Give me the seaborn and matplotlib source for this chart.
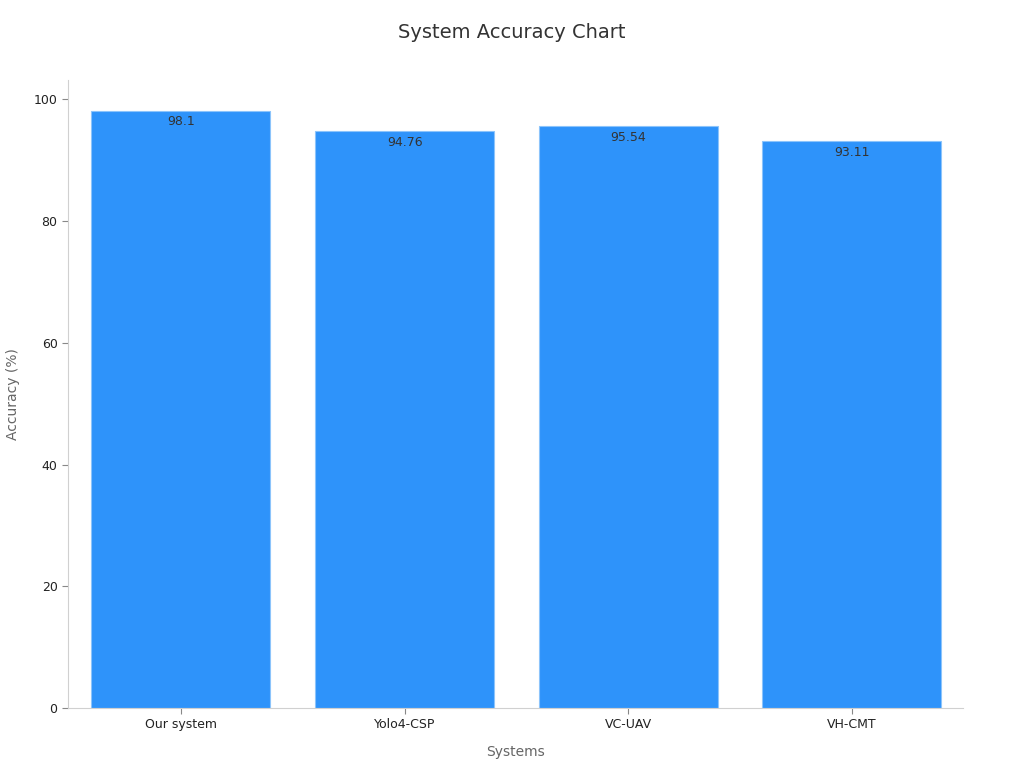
import pandas as pd
import matplotlib
matplotlib.use("Agg")
import matplotlib.pyplot as plt
import seaborn as sns

# --- chart data ---
systems = ['Our system', 'Yolo4-CSP', 'VC-UAV', 'VH-CMT']
accuracy = [98.1, 94.76, 95.54, 93.11]

BAR_COLOR = '#2E93FA'

df = pd.DataFrame({'Systems': systems, 'Accuracy': accuracy})

sns.set_style('white')
plt.rcParams['font.family'] = ['DejaVu Sans']

fig = plt.figure(figsize=(10.24, 7.68), dpi=100)
ax = fig.add_axes([0.0664, 0.0781, 0.8736, 0.8179])

sns.barplot(data=df, x='Systems', y='Accuracy', color=BAR_COLOR, saturation=1,
            width=0.8, edgecolor='#8cc4fb', linewidth=0.8, ax=ax)

# value labels just under the top of each bar
for i, v in enumerate(accuracy):
    ax.text(i, v - 0.7, f'{v:g}', ha='center', va='top', fontsize=9, color='#333333')

ax.set_xlim(-0.505, 3.495)
ax.set_ylim(0, 103.2)
ax.set_yticks([0, 20, 40, 60, 80, 100])

for side in ['top', 'right']:
    ax.spines[side].set_visible(False)
for side in ['left', 'bottom']:
    ax.spines[side].set_color('#d0d0d0')
    ax.spines[side].set_linewidth(0.8)

ax.tick_params(axis='both', which='both', length=4, color='#888888', labelsize=9,
               labelcolor='#222222', left=True, bottom=True)

ax.set_xlabel('Systems', fontsize=10, color='#666666', labelpad=10)
ax.set_ylabel('Accuracy (%)', fontsize=10, color='#666666', labelpad=10)
fig.suptitle('System Accuracy Chart', fontsize=14, color='#333333', y=0.97)

fig.savefig('out.png', dpi=100)
